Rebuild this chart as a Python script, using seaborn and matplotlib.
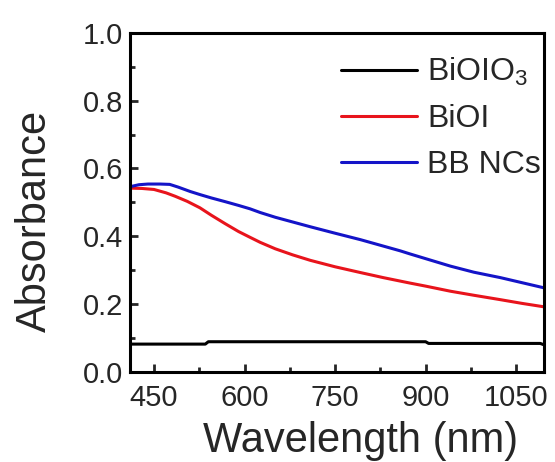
import pandas as pd
import matplotlib
matplotlib.use("Agg")
import matplotlib.pyplot as plt
from matplotlib.ticker import MultipleLocator, FormatStrFormatter
import seaborn as sns

# Valeurs
wl_bioio3 = [410, 535, 540, 900, 905, 1090, 1096]
abs_bioio3 = [0.082, 0.082, 0.089, 0.089, 0.084, 0.084, 0.080]

wl_bioi = [410, 430, 450, 470, 485, 505, 526, 545, 568, 590, 609, 626, 651,
           680, 709, 750, 792, 830, 874, 900, 941, 980, 1024, 1060, 1096]
abs_bioi = [0.542, 0.541, 0.538, 0.528, 0.518, 0.503, 0.484, 0.462, 0.437,
            0.414, 0.397, 0.382, 0.363, 0.345, 0.329, 0.310, 0.293, 0.278,
            0.262, 0.253, 0.238, 0.226, 0.213, 0.202, 0.192]

wl_bb = [410, 425, 440, 460, 476, 490, 510, 526, 545, 568, 590, 609, 626, 651,
         680, 709, 750, 792, 830, 858, 874, 900, 941, 980, 1024, 1060, 1096]
abs_bb = [0.546, 0.552, 0.554, 0.554, 0.553, 0.545, 0.532, 0.523, 0.513,
          0.502, 0.491, 0.481, 0.470, 0.456, 0.442, 0.428, 0.409, 0.390,
          0.371, 0.357, 0.348, 0.334, 0.312, 0.294, 0.278, 0.263, 0.248]

labels = [r'BiOIO$_{3}$', 'BiOI', 'BB NCs']
colors = ['#000000', '#e8141c', '#1414c8']

df = pd.concat([
    pd.DataFrame({'wl': wl_bioio3, 'abs': abs_bioio3, 'sample': labels[0]}),
    pd.DataFrame({'wl': wl_bioi, 'abs': abs_bioi, 'sample': labels[1]}),
    pd.DataFrame({'wl': wl_bb, 'abs': abs_bb, 'sample': labels[2]}),
], ignore_index=True)

sns.set_style('ticks')
plt.rcParams['font.family'] = ['Liberation Sans', 'DejaVu Sans']
plt.rcParams['mathtext.default'] = 'regular'

fig = plt.figure(figsize=(5.55, 4.62), dpi=100)
ax = fig.add_axes([0.234, 0.195, 0.746, 0.734])

sns.lineplot(data=df, x='wl', y='abs', hue='sample', palette=colors,
             hue_order=labels, linewidth=2.2, ax=ax, sort=False, errorbar=None)

ax.set_xlim(410, 1096)
ax.set_ylim(0, 1.0)
ax.set_xticks([450, 600, 750, 900, 1050])
ax.xaxis.set_minor_locator(MultipleLocator(75))
ax.yaxis.set_major_locator(MultipleLocator(0.2))
ax.yaxis.set_minor_locator(MultipleLocator(0.1))
ax.yaxis.set_major_formatter(FormatStrFormatter('%.1f'))

for s in ax.spines.values():
    s.set_visible(True)
    s.set_linewidth(2.2)
    s.set_color('black')

ax.tick_params(which='major', direction='in', length=6, width=2,
               labelsize=21, top=False, right=False)
ax.tick_params(axis='x', which='major', pad=9)
ax.tick_params(axis='y', which='major', pad=5)
ax.tick_params(which='minor', direction='in', length=3.5, width=2,
               top=False, right=False)

ax.set_xlabel('Wavelength (nm)', fontsize=30, labelpad=6)
ax.set_ylabel('Absorbance', fontsize=30, labelpad=20)
ax.xaxis.label.set_x(0.558)
ax.yaxis.label.set_y(0.445)

leg = ax.legend(loc='upper right', bbox_to_anchor=(1.0, 0.94), frameon=False,
                fontsize=23, handlelength=2.4, handletextpad=0.3,
                labelspacing=0.5, borderaxespad=0.0, borderpad=0.1)
for line in leg.get_lines():
    line.set_linewidth(2.2)

fig.savefig('out.png', dpi=100)
